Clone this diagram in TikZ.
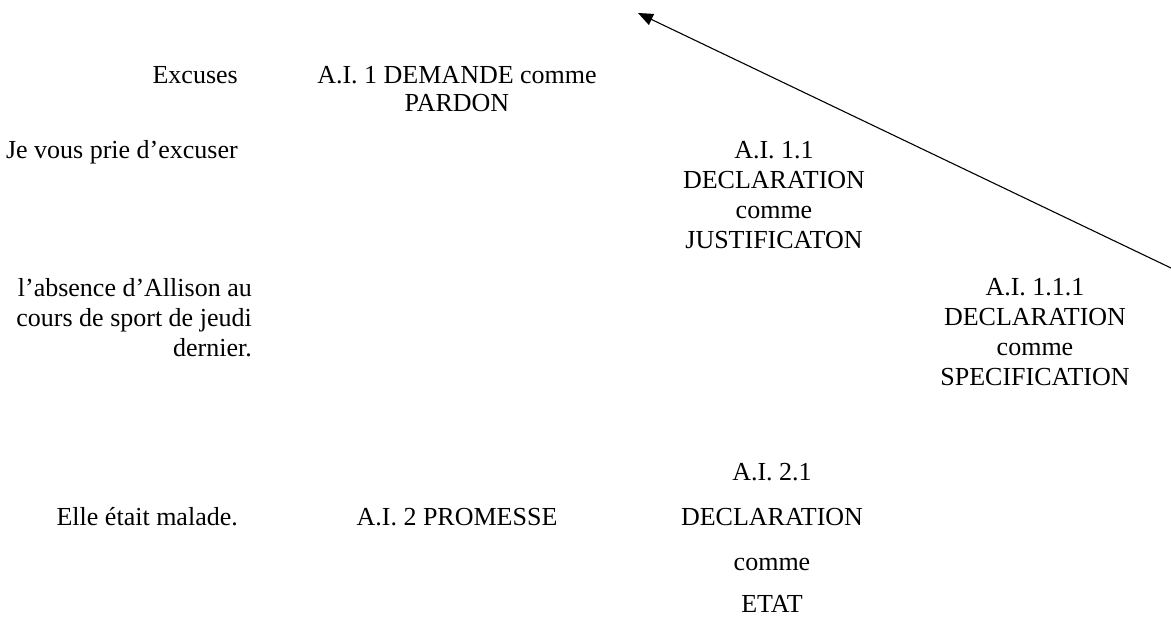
\documentclass[tikz,border=0pt]{standalone}
\usepackage{fontspec}
\setmainfont{Liberation Serif}
\usetikzlibrary{arrows.meta}
\begin{document}
\begin{tikzpicture}[x=1pt,y=-1pt,
  lbl/.style={inner sep=0pt,font=\fontsize{26}{30}\selectfont},
  rlbl/.style={lbl,align=right,anchor=north east},
  clbl/.style={lbl,align=center,anchor=north},
  rbase/.style={lbl,anchor=base east},
  cbase/.style={lbl,anchor=base},
  arr/.style={-{Triangle[length=15pt,width=12pt]},line width=1.1pt}]
\useasboundingbox (0,0) rectangle (1171,619);
\node[rbase] (exc) at (238,83) {Excuses};
\node[clbl,font=\fontsize{26}{28}\selectfont] (ai1) at (457,63.4) {\strut A.I. 1 DEMANDE comme\\PARDON};
\node[rbase] (prie) at (238,158) {Je vous prie d’excuser};
\node[clbl] (ai11) at (774,137) {\strut A.I. 1.1\\DECLARATION\\comme\\JUSTIFICATON};
\node[rlbl] (abs) at (252,275) {\strut l’absence d’Allison au\\cours de sport de jeudi\\dernier.};
\node[clbl] (ai111) at (1035,274) {\strut A.I. 1.1.1\\DECLARATION\\comme\\SPECIFICATION};
\node[cbase] (ai21) at (772,480) {A.I. 2.1};
\node[cbase] (decl) at (772,525) {DECLARATION};
\node[cbase] (comme) at (772,570) {comme};
\node[cbase] (etat) at (772,612) {ETAT};
\node[rbase] (elle) at (238,525) {Elle était malade.};
\node[cbase] (ai2) at (457,525) {A.I. 2 PROMESSE};
\coordinate (s) at (1171,268);
\coordinate (t) at (638,13);
\draw[arr] (s) -- (t);
\end{tikzpicture}
\end{document}
